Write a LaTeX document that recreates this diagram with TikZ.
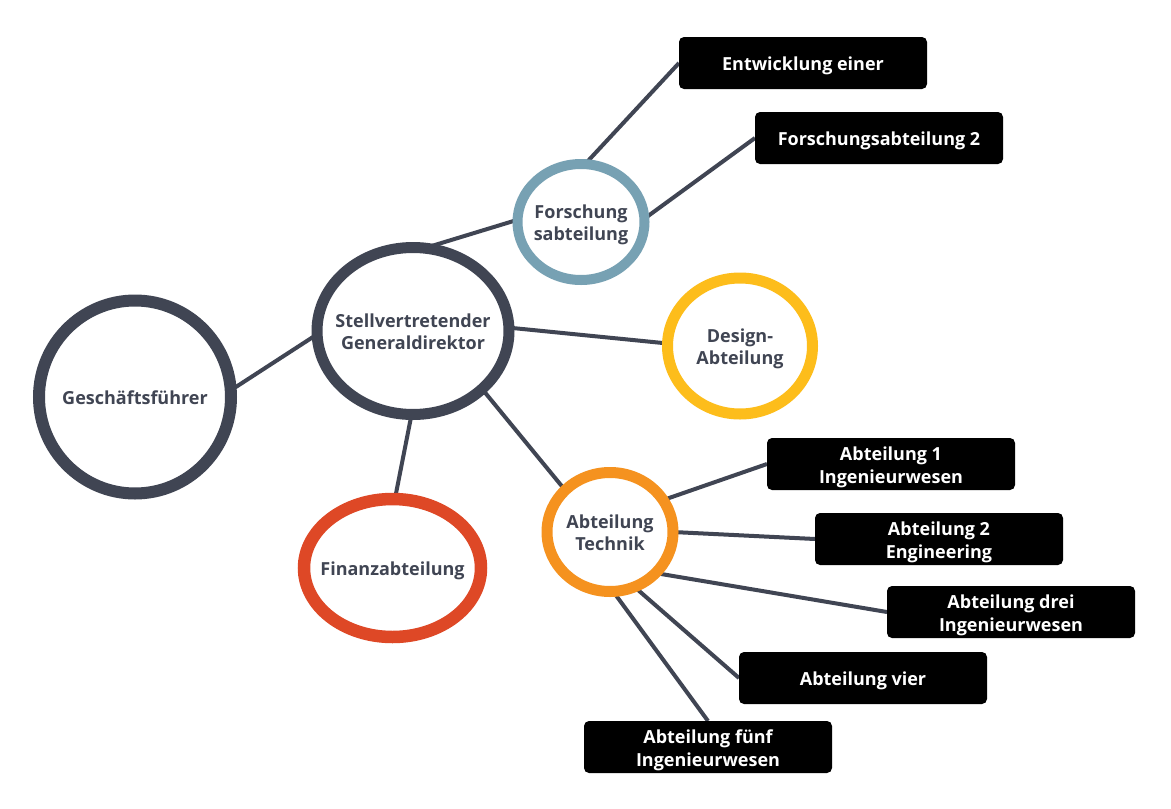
\documentclass[tikz,border=0pt]{standalone}
\usepackage{fontspec}
\setmainfont{Open Sans}
\usetikzlibrary{shapes.geometric,backgrounds}
\definecolor{dk}{HTML}{404553}
\definecolor{cblue}{HTML}{77A1B3}
\definecolor{cyellow}{HTML}{FDBD1B}
\definecolor{corange}{HTML}{F5921F}
\definecolor{cred}{HTML}{DE4826}
\newcommand{\ctxt}[1]{\makebox[0pt][c]{\raisebox{-3pt}[\height][\depth]{\begin{tabular}{@{}c@{}}#1\end{tabular}}}}
\newcommand{\btxt}[1]{\raisebox{-3pt}[\height][\depth]{\begin{tabular}{@{}c@{}}#1\end{tabular}}}
\begin{document}
\begin{tikzpicture}[x=1pt,y=-1pt,
  circ/.style={ellipse, draw, fill=white, inner sep=0pt, outer sep=0pt,
    text=dk, font=\bfseries\fontsize{18}{22}\selectfont},
  box/.style={rectangle, rounded corners=5pt, fill=black, text=white,
    minimum width=248pt, minimum height=52pt, inner sep=0pt, outer sep=0pt,
    font=\bfseries\fontsize{18}{23}\selectfont},
  conn/.style={draw=dk, line width=4pt}]
\useasboundingbox (0,0) rectangle (1171,809);

% circles
\node[circ, draw=dk, line width=12pt, minimum width=192pt, minimum height=193pt] (gf) at (135,397) {\ctxt{Geschäftsführer}};
\node[circ, draw=dk, line width=11pt, minimum width=192pt, minimum height=167pt] (sg) at (413,331) {\ctxt{Stellvertretender\\Generaldirektor}};
\node[circ, draw=cblue, line width=10pt, minimum width=127pt, minimum height=116pt] (fa) at (581,222) {\ctxt{Forschung\\sabteilung}};
\node[circ, draw=cyellow, line width=11pt, minimum width=145pt, minimum height=136pt] (da) at (740,346) {\ctxt{Design-\\Abteilung}};
\node[circ, draw=corange, line width=11pt, minimum width=126pt, minimum height=119pt] (at) at (610,532) {\ctxt{Abteilung\\Technik}};
\node[circ, draw=cred, line width=12.5pt, minimum width=177pt, minimum height=138pt] (fin) at (392.5,568) {\ctxt{Finanzabteilung}};

% boxes
\node[box] (e1) at (803,63) {\btxt{Entwicklung einer}};
\node[box] (f2) at (879,138) {\btxt{Forschungsabteilung 2}};
\node[box] (a1) at (891,464) {\btxt{Abteilung 1\\Ingenieurwesen}};
\node[box] (a2) at (939,539) {\btxt{Abteilung 2\\Engineering}};
\node[box] (a3) at (1011,612) {\btxt{Abteilung drei\\Ingenieurwesen}};
\node[box] (a4) at (863,678) {\btxt{Abteilung vier}};
\node[box] (a5) at (708,747) {\btxt{Abteilung fünf\\Ingenieurwesen}};

\begin{scope}[on background layer]
\fill[white] (0,0) rectangle (1171,809);
\draw[conn] (gf.4) -- (sg.182);
\draw[conn] (sg.82) -- (fa.178);
\draw[conn] (sg.2) -- (da.178);
\draw[conn] (sg.269) -- (fin.88);
\draw[conn] (sg.320) -- (at.137);
\draw[conn] (fa.86) -- (e1.west);
\draw[conn] (fa.3) -- (f2.west);
\draw[conn] (at.31) -- (a1.west);
\draw[conn] (at.0) -- (a2.west);
\draw[conn] (at.318) -- (a3.west);
\draw[conn] (at.294) -- (a4.west);
\draw[conn] (at.273) -- (a5.north);
\end{scope}
\end{tikzpicture}
\end{document}
